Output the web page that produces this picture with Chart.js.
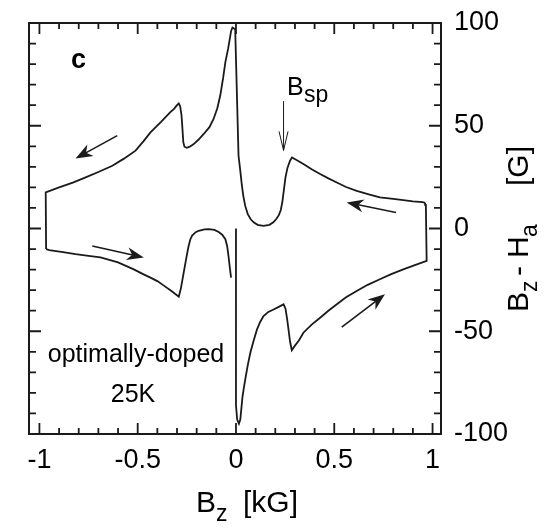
<!DOCTYPE html>
<html>
<head>
<meta charset="utf-8">
<script src="https://cdn.jsdelivr.net/npm/chart.js@4/dist/chart.umd.min.js"></script>
<style>
  html, body { margin: 0; padding: 0; background: #fff; }
  #wrap { width: 553px; height: 527px; }
</style>
</head>
<body>
<div id="wrap"><canvas id="chart" width="553" height="527"></canvas></div>
<script>
// B_z [kG] vs B_z - H_a [G]
const xTicks = [-1, -0.5, 0, 0.5, 1];
const yTicks = [-100, -50, 0, 50, 100];

// decreasing field, right to left (top of loop), then down the left edge
const upperBranch = [
  [0.962, 12.5], [0.95, 12.8], [0.9, 13.2], [0.851, 13.8], [0.8, 14.4], [0.732, 15.1],
  [0.68, 16.5], [0.614, 18.3], [0.56, 20.2], [0.513, 22.4], [0.47, 24.4], [0.428, 26.5],
  [0.385, 28.8], [0.343, 31.4], [0.31, 33.2], [0.285, 34.6], [0.275, 33], [0.262, 29.5],
  [0.252, 25], [0.244, 19], [0.236, 13], [0.228, 9], [0.218, 6.5], [0.205, 4.6],
  [0.19, 3], [0.17, 1.8], [0.14, 1.3], [0.11, 1.8], [0.09, 3], [0.075, 4.5], [0.06, 7],
  [0.047, 11], [0.037, 16], [0.03, 21], [0.022, 28], [0.013, 35.4], [-0.004, 97],
  [-0.018, 97.8], [-0.025, 96], [-0.032, 92], [-0.04, 87.5], [-0.054, 81], [-0.065, 73.5],
  [-0.08, 64.7], [-0.095, 58.5], [-0.114, 53.3], [-0.135, 49.3], [-0.164, 46],
  [-0.19, 43.3], [-0.215, 41.1], [-0.235, 39.8], [-0.25, 39.3], [-0.262, 39.8],
  [-0.268, 42], [-0.272, 48], [-0.277, 55], [-0.284, 59.5], [-0.291, 60.8], [-0.3, 60],
  [-0.315, 58.2], [-0.334, 56.6], [-0.38, 52], [-0.435, 46.8], [-0.47, 42.5],
  [-0.511, 37.9], [-0.57, 34], [-0.629, 30.5], [-0.7, 27.5], [-0.765, 24.9],
  [-0.83, 22.3], [-0.9, 20], [-0.968, 17.6], [-0.966, -10]
];

// increasing field, left to right (bottom left of loop)
const lowerBranch = [
  [-0.966, -10], [-0.95, -10.5], [-0.88, -11.5], [-0.816, -12.5], [-0.75, -13.3],
  [-0.689, -14.1], [-0.6, -16.5], [-0.52, -19.9], [-0.47, -22.3], [-0.435, -23.9],
  [-0.4, -25.6], [-0.367, -27.8], [-0.33, -30.3], [-0.291, -33.2], [-0.28, -29],
  [-0.266, -21.5], [-0.25, -13], [-0.241, -8.5], [-0.232, -5.2], [-0.223, -3.4],
  [-0.205, -1.8], [-0.19, -1.1], [-0.16, -0.4], [-0.139, -0.3], [-0.11, -0.7],
  [-0.088, -1.7], [-0.07, -3], [-0.054, -5.2], [-0.045, -8.5], [-0.038, -13.4],
  [-0.032, -18.5], [-0.025, -23.9]
];

// spike at B_z = 0 and bottom right of loop, back up the right edge
const spikeBranch = [
  [0.0, 0], [0.0, -86], [0.006, -93], [0.015, -95], [0.022, -93], [0.027, -88],
  [0.033, -82], [0.04, -77.5], [0.047, -73.5], [0.06, -66.5], [0.073, -60.5],
  [0.09, -54.5], [0.107, -49.1], [0.123, -45.5], [0.14, -42.6], [0.165, -40.6],
  [0.191, -39.4], [0.22, -38], [0.242, -36.9], [0.252, -39], [0.26, -44], [0.267, -49],
  [0.275, -55], [0.284, -59.2], [0.3, -57], [0.32, -54.5], [0.343, -50.7], [0.385, -46.8],
  [0.428, -43.4], [0.47, -40], [0.513, -36.9], [0.56, -33.5], [0.614, -30.4],
  [0.67, -27.4], [0.732, -24.7], [0.79, -22.2], [0.851, -19.9], [0.91, -17.8],
  [0.97, -15.8], [0.966, 11.5], [0.962, 12.5]
];

// flow arrows: [x tail, y tail, x head, y head]
const flowArrows = [
  [-0.604, 45.2, -0.816, 34.1],
  [-0.731, -8.5, -0.469, -14.1],
  [0.814, 7.8, 0.563, 12.7],
  [0.538, -48, 0.758, -32]
];
const bspArrow = [0.242, 62, 0.242, 38];

const FONT = '"Liberation Sans", Arial, Helvetica, sans-serif';
const INK = '#1a1a1a';

function pts(arr) { return arr.map(([x, y]) => ({ x, y })); }

function arrowHead(ctx, x1, y1, x2, y2, len, half, filled) {
  const a = Math.atan2(y2 - y1, x2 - x1);
  const c = Math.cos(a), s = Math.sin(a);
  const bx = x2 - c * len, by = y2 - s * len;
  ctx.beginPath();
  if (filled) {
    ctx.moveTo(x2, y2);
    ctx.lineTo(bx - s * half, by + c * half);
    ctx.lineTo(x2 - c * len * 0.7, y2 - s * len * 0.7);
    ctx.lineTo(bx + s * half, by - c * half);
    ctx.closePath();
    ctx.fill();
  } else {
    ctx.moveTo(bx - s * half, by + c * half);
    ctx.lineTo(x2, y2);
    ctx.lineTo(bx + s * half, by - c * half);
    ctx.stroke();
  }
}

// parts: [text, size, start offset along the line, baseline shift]
function placedText(ctx, parts) {
  parts.forEach(([t, size, at, dy]) => {
    ctx.font = size + 'px ' + FONT;
    ctx.fillText(t, at, dy);
  });
}

const framePlugin = {
  id: 'frame',
  afterDraw(chart) {
    const { ctx, chartArea: a, scales: { x, y } } = chart;
    ctx.save();
    ctx.strokeStyle = INK;
    ctx.fillStyle = INK;
    ctx.lineWidth = 2;
    ctx.strokeRect(a.left, a.top, a.right - a.left, a.bottom - a.top);

    // inward ticks on all four sides
    ctx.lineWidth = 1.8;
    ctx.beginPath();
    for (let i = -10; i <= 10; i++) {
      const px = x.getPixelForValue(i / 10);
      const len = i % 5 === 0 ? 11 : 6;
      ctx.moveTo(px, a.bottom); ctx.lineTo(px, a.bottom - len);
      ctx.moveTo(px, a.top); ctx.lineTo(px, a.top + len);
    }
    for (let i = -9; i <= 9; i++) {
      const py = y.getPixelForValue(i * 10);
      const len = i % 5 === 0 ? 12 : 7;
      ctx.moveTo(a.left, py); ctx.lineTo(a.left + len, py);
      ctx.moveTo(a.right, py); ctx.lineTo(a.right - len, py);
    }
    ctx.stroke();

    // flow arrows
    ctx.lineWidth = 1.6;
    flowArrows.forEach(([x1, y1, x2, y2]) => {
      const p1 = [x.getPixelForValue(x1), y.getPixelForValue(y1)];
      const p2 = [x.getPixelForValue(x2), y.getPixelForValue(y2)];
      const a2 = Math.atan2(p2[1] - p1[1], p2[0] - p1[0]);
      ctx.beginPath();
      ctx.moveTo(p1[0], p1[1]);
      ctx.lineTo(p2[0] - Math.cos(a2) * 8, p2[1] - Math.sin(a2) * 8);
      ctx.stroke();
      arrowHead(ctx, p1[0], p1[1], p2[0], p2[1], 17, 6.5, true);
    });

    // B_sp marker
    ctx.lineWidth = 1;
    const b1 = [x.getPixelForValue(bspArrow[0]), y.getPixelForValue(bspArrow[1])];
    const b2 = [x.getPixelForValue(bspArrow[2]), y.getPixelForValue(bspArrow[3])];
    ctx.beginPath();
    ctx.moveTo(b1[0], b1[1]); ctx.lineTo(b2[0], b2[1]);
    ctx.stroke();
    arrowHead(ctx, b1[0], b1[1], b2[0], b2[1], 19, 4.5, false);

    // annotations
    ctx.fillStyle = '#000';
    ctx.textBaseline = 'alphabetic';
    ctx.textAlign = 'left';
    ctx.font = 'bold 27px ' + FONT;
    ctx.fillText('c', 71, 68);
    ctx.save();
    ctx.translate(0, 95);
    placedText(ctx, [['B', 25, 287, 0], ['sp', 23, 304, 7]]);
    ctx.restore();
    ctx.font = '25px ' + FONT;
    ctx.textAlign = 'center';
    ctx.fillText('optimally-doped', 136, 362);
    ctx.fillText('25K', 133, 402);

    // x axis title
    ctx.textAlign = 'left';
    ctx.save();
    ctx.translate(0, 512);
    placedText(ctx, [['B', 30, 196, 0], ['z', 23, 216, 9], ['[kG]', 30, 243, 0]]);
    ctx.restore();

    // y axis title, rotated
    ctx.translate(528, 0);
    ctx.rotate(-Math.PI / 2);
    placedText(ctx, [['B', 30, -312, 0], ['z', 23, -292, 9], ['-', 30, -276, 0],
                     ['H', 30, -258, 0], ['a', 23, -237, 9], ['[G]', 30, -186, 0]]);
    ctx.restore();
  }
};

const line = { showLine: true, borderColor: INK, borderWidth: 1.8, pointRadius: 0, tension: 0, fill: false };

new Chart(document.getElementById('chart'), {
  type: 'scatter',
  data: {
    datasets: [
      { ...line, label: 'upper', data: pts(upperBranch) },
      { ...line, label: 'lower', data: pts(lowerBranch) },
      { ...line, label: 'spike', data: pts(spikeBranch) }
    ]
  },
  options: {
    responsive: false,
    animation: false,
    devicePixelRatio: 1,
    layout: { padding: { left: 29, top: 23, right: 0, bottom: 0 } },
    plugins: { legend: { display: false }, tooltip: { enabled: false } },
    scales: {
      x: {
        type: 'linear', position: 'bottom', min: -1.053, max: 1.043,
        grid: { display: false }, border: { display: false },
        afterBuildTicks: s => { s.ticks = xTicks.map(v => ({ value: v })); },
        afterFit: s => { s.height = 93; },
        ticks: { color: '#000', padding: 2, maxRotation: 0, autoSkip: false,
                 font: { family: FONT, size: 27 }, callback: v => String(v) }
      },
      y: {
        type: 'linear', position: 'right', min: -100, max: 100,
        grid: { display: false }, border: { display: false },
        afterBuildTicks: s => { s.ticks = yTicks.map(v => ({ value: v })); },
        afterFit: s => { s.width = 112; },
        ticks: { color: '#000', padding: 5, autoSkip: false,
                 font: { family: FONT, size: 27 }, callback: v => String(v) }
      }
    }
  },
  plugins: [framePlugin]
});
</script>
</body>
</html>
